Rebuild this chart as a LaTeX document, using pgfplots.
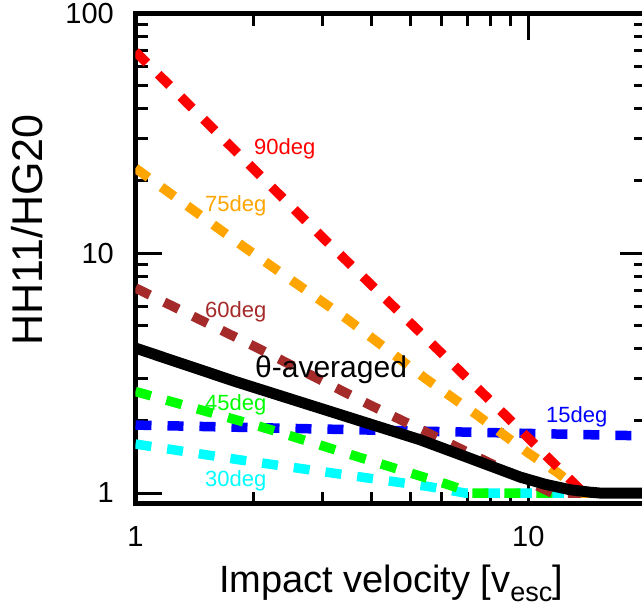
\documentclass[border=0pt]{standalone}
\usepackage{pgfplots}
\pgfplotsset{compat=1.18}
\usepackage{fontspec}
\setmainfont{Liberation Sans}
\usetikzlibrary{calc}
\definecolor{c90}{RGB}{255,0,0}
\definecolor{c75}{RGB}{255,165,0}
\definecolor{c60}{RGB}{165,42,42}
\definecolor{c45}{RGB}{0,255,0}
\definecolor{c30}{RGB}{0,255,255}
\definecolor{c15}{RGB}{0,0,255}
\begin{document}
\begin{tikzpicture}
\begin{axis}[
  scale only axis, width=511pt, height=490.7pt,
  xmode=log, ymode=log, xmin=1, xmax=20, ymin=0.9, ymax=100,
  xtick={1,10}, xticklabels={1,10},
  ytick={1,10,100}, yticklabels={1,10,100},
  minor xtick={2,3,4,5,6,7,8,9},
  minor ytick={2,3,4,5,6,7,8,9,20,30,40,50,60,70,80,90},
  major tick length=27pt, minor tick length=12.5pt,
  every tick/.style={black, line width=3pt},
  axis line style={line width=5pt},
  tick align=inside,
  /pgf/number format/assume math mode=true,
  xticklabel style={font=\fontsize{29}{29}\selectfont, anchor=base, inner sep=0pt, yshift=-42.5pt},
  yticklabel style={font=\fontsize{29}{29}\selectfont, anchor=east, inner sep=0pt, xshift=-21.5pt},
  xlabel={Impact velocity [v\raisebox{-9pt}{\fontsize{27}{27}\selectfont esc}]},
  ylabel={HH11/HG20},
  xlabel style={font=\fontsize{38}{38}\selectfont, at={(axis description cs:0.5,0)}, anchor=base, inner sep=0pt, yshift=-89pt},
  ylabel style={font=\fontsize{43}{43}\selectfont, at={(axis description cs:-0.2114,0.5584)}, anchor=center, inner sep=0pt},
  every axis plot/.append style={line cap=butt},
]
\addplot[c15, line width=9.5pt, dash pattern=on 16pt off 16pt] coordinates {(1,1.92) (20,1.73)};
\addplot[c30, line width=9.5pt, dash pattern=on 16pt off 16pt] coordinates {(1,1.60) (1.83,1.377) (3.19,1.21) (5.56,1.065) (6.9,1) (20,1)};
\addplot[c45, line width=9.5pt, dash pattern=on 16pt off 16pt] coordinates {(1,2.65) (2.14,1.866) (3.66,1.42) (6.25,1.084) (7.2,1) (20,1)};
\addplot[c60, line width=9.5pt, dash pattern=on 16pt off 16pt] coordinates {(1,7.16) (2.01,4.08) (3.95,2.33) (7.83,1.355) (11.5,1) (20,1)};
\addplot[c75, line width=9.5pt, dash pattern=on 16pt off 16pt] coordinates {(1,22.6) (1.882,10.66) (3.48,5.27) (5.46,3.01) (7.39,2.12) (10,1.468) (11.92,1.211) (13.8,1) (20,1)};
\addplot[c90, line width=9.5pt, dash pattern=on 16pt off 16pt] coordinates {(1,69.2) (2.979,11.72) (8.81,2.084) (13.84,1) (20,1)};
\addplot[black, line width=11pt, line join=round] coordinates {(1,4.02) (1.803,2.91) (3.24,2.15) (3.954,1.94) (5.30,1.668) (7.105,1.396) (9.526,1.166) (11.03,1.088) (12.77,1.032) (14.36,1.008) (15.2,1) (20,1)};
\node[anchor=base west, inner sep=0pt, text=c90, font=\fontsize{22}{22}\selectfont] at (axis cs:2.003,25.7) {90deg};
\node[anchor=base west, inner sep=0pt, text=c75, font=\fontsize{22}{22}\selectfont] at (axis cs:1.503,14.86) {75deg};
\node[anchor=base west, inner sep=0pt, text=c60, font=\fontsize{22}{22}\selectfont] at (axis cs:1.503,5.375) {60deg};
\node[anchor=base west, inner sep=0pt, text=c45, font=\fontsize{22}{22}\selectfont] at (axis cs:1.503,2.203) {45deg};
\node[anchor=base west, inner sep=0pt, text=c30, font=\fontsize{22}{22}\selectfont] at (axis cs:1.503,1.062) {30deg};
\node[anchor=base west, inner sep=0pt, text=c15, font=\fontsize{22}{22}\selectfont] at (axis cs:11.09,1.963) {15deg};
\node[anchor=base west, inner sep=0pt, text=black, font=\fontsize{30}{30}\selectfont] at (axis cs:2.015,3.023) {θ-averaged};
\end{axis}
\pgfresetboundingbox
\useasboundingbox ($(current axis.south west)+(-135.5pt,-105pt)$) rectangle ($(current axis.south west)+(506.5pt,504pt)$);
\end{tikzpicture}
\end{document}
